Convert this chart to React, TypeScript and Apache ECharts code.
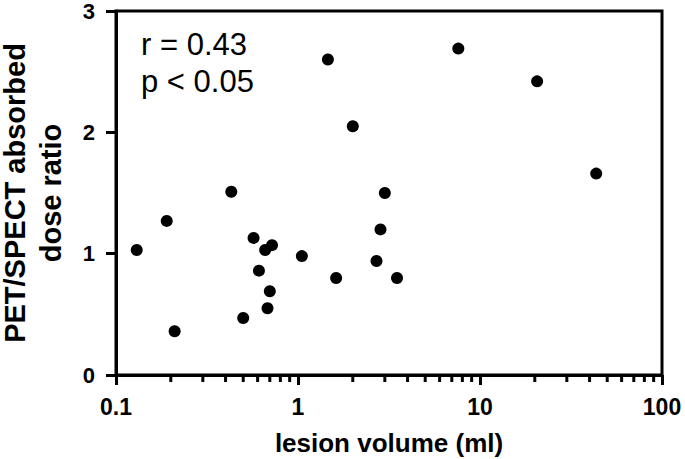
import React, { useEffect, useRef } from "react";
import * as echarts from "echarts";

const lesionVolume = [0.13, 0.19, 0.21, 0.43, 0.5, 0.57, 0.61, 0.66, 0.68, 0.7, 0.72, 1.05, 1.46, 1.62, 2.0, 2.7, 2.84, 3.0, 3.5, 7.6, 20.6, 43.5];
const doseRatio = [1.03, 1.27, 0.36, 1.51, 0.47, 1.13, 0.86, 1.03, 0.55, 0.69, 1.07, 0.98, 2.6, 0.8, 2.05, 0.94, 1.2, 1.5, 0.8, 2.69, 2.42, 1.66];
const xTickLabels = ["0.1", "1", "10", "100"];
const xMinorTicks = [0.2, 0.3, 0.4, 0.5, 0.6, 0.7, 0.8, 0.9, 2, 3, 4, 5, 6, 7, 8, 9, 20, 30, 40, 50, 60, 70, 80, 90];
const yTickLabels = ["0", "1", "2", "3"];
const yNameLines = ["PET/SPECT absorbed", "dose ratio"];
const statLines = ["r = 0.43", "p < 0.05"];

const FONT = "Liberation Sans, Arial, Helvetica, sans-serif";

export default function App() {
  const ref = useRef<HTMLDivElement>(null);
  useEffect(() => {
    if (!ref.current) return;
    const chart = echarts.init(ref.current, null, { renderer: "svg" });
    const points = lesionVolume.map((v, i) => [v, doseRatio[i]]);
    chart.setOption({
      animation: false,
      backgroundColor: "#fff",
      grid: {
        left: 116,
        right: 23,
        top: 11,
        bottom: 84,
        outerBoundsMode: "none",
        containLabel: false,
        show: true,
        borderColor: "#000",
        borderWidth: 3,
        backgroundColor: "transparent",
      },
      xAxis: {
        type: "log",
        logBase: 10,
        min: 0.1,
        max: 100,
        name: "lesion volume (ml)",
        nameLocation: "middle",
        nameGap: 55,
        nameTextStyle: { fontFamily: FONT, fontWeight: "bold", fontSize: 26, color: "#000" },
        axisLine: { lineStyle: { color: "#000", width: 3 } },
        axisTick: { show: true, length: 10, lineStyle: { color: "#000", width: 3 } },
        axisLabel: {
          margin: 20,
          fontFamily: FONT,
          fontWeight: "bold",
          fontSize: 23,
          color: "#000",
          formatter: (_v: number, i: number) => xTickLabels[i] ?? "",
        },
        splitLine: { show: false },
        minorTick: { show: false },
      },
      yAxis: {
        type: "value",
        min: 0,
        max: 3,
        interval: 1,
        axisLine: { show: true, lineStyle: { color: "#000", width: 3 } },
        axisTick: { show: true, length: 10, lineStyle: { color: "#000", width: 3 } },
        axisLabel: {
          margin: 21,
          fontFamily: FONT,
          fontWeight: "bold",
          fontSize: 22,
          color: "#000",
          formatter: (_v: number, i: number) => yTickLabels[i] ?? "",
        },
        splitLine: { show: false },
      },
      graphic: [
        ...statLines.map((t, i) => ({
          type: "text",
          left: 141,
          top: 29 + i * 37,
          style: { text: t, fontFamily: FONT, fontSize: 31, fill: "#000" },
        })),
        ...yNameLines.map((t, i) => ({
          type: "text",
          x: 15 + i * 36,
          y: 193,
          rotation: Math.PI / 2,
          style: {
            text: t,
            fontFamily: FONT,
            fontWeight: "bold",
            fontSize: 29,
            fill: "#000",
            textAlign: "center",
            textVerticalAlign: "middle",
          },
        })),
      ],
      series: [
        {
          type: "scatter",
          data: points,
          symbol: "circle",
          symbolSize: 12,
          itemStyle: { color: "#000", opacity: 1 },
          silent: true,
        },
        {
          type: "custom",
          data: xMinorTicks.map((v) => [v, 0]),
          silent: true,
          clip: false,
          renderItem: (_p: any, api: any) => {
            const c = api.coord([api.value(0), 0]);
            return {
              type: "line",
              shape: { x1: c[0], y1: c[1], x2: c[0], y2: c[1] + 7 },
              style: { stroke: "#000", lineWidth: 3 },
            };
          },
        },
      ],
    });
    return () => chart.dispose();
  }, []);
  return <div ref={ref} style={{ position: "fixed", left: 0, top: 0, width: 685, height: 459 }} />;
}
